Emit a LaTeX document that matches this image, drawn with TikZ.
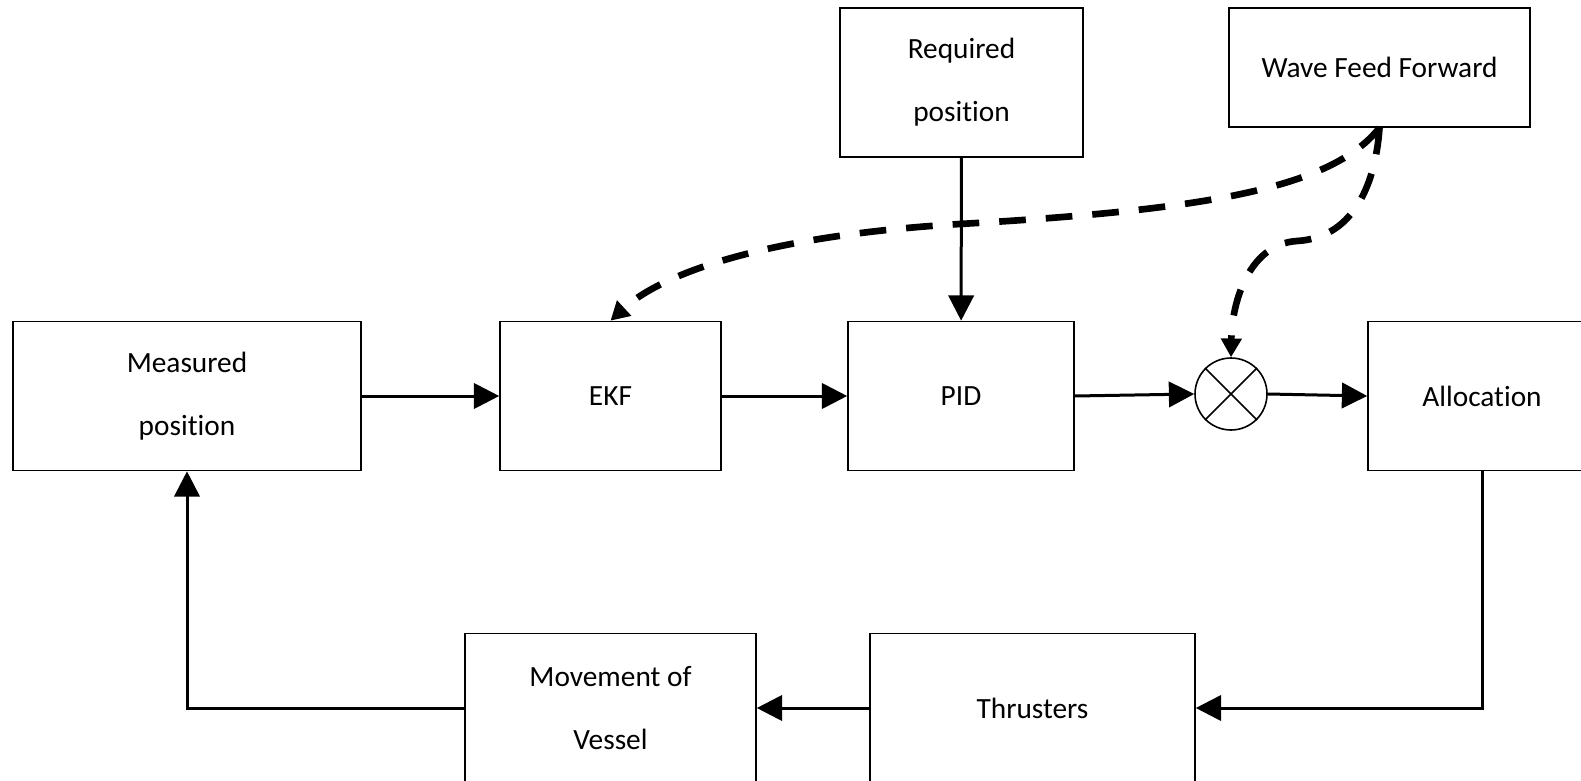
\documentclass[tikz,border=0pt]{standalone}
\usepackage{fontspec}
\setmainfont{Carlito}[Ligatures=NoCommon]
\usetikzlibrary{arrows.meta}

\begin{document}
\begin{tikzpicture}[x=0.75pt,y=-0.75pt,
  >={Triangle[length=19pt,width=19pt]},
  block/.style={draw,line width=1.2pt,inner sep=0pt,align=center,
    minimum height=111.75pt,font=\fontsize{22}{47}\selectfont},
  flow/.style={->,line width=2.25pt},
  wave/.style={-{Triangle[length=14pt,width=15pt]},line width=5pt,
    dash pattern=on 20pt off 15pt}]
  \useasboundingbox (0,0) rectangle (1581,781);
  \node[block,minimum width=261pt] (mp) at (187,396) {Measured\\position};
  \node[block,minimum width=165.75pt] (ekf) at (610.5,396) {EKF};
  \node[block,minimum width=169.5pt] (pid) at (961,396) {PID};
  \node[block,minimum width=171pt] (alloc) at (1482,396) {Allocation};
  \node[block,minimum width=182.25pt] (req) at (961.5,82.5) {Required\\position};
  \node[block,minimum width=225.75pt,minimum height=89.25pt] (wff) at (1379.5,67.5) {Wave Feed Forward};
  \node[block,minimum width=218.25pt] (mov) at (610.5,708) {Movement of\\Vessel};
  \node[block,minimum width=243.75pt] (thr) at (1032.5,708) {Thrusters};
  \node[draw,circle,line width=1.2pt,minimum size=54pt,inner sep=0pt] (sum) at (1231,394) {};
  \draw[line width=1.2pt] (sum.north west) -- (sum.south east)
    (sum.north east) -- (sum.south west);
  \draw [flow] (mp) -- (ekf);
  \draw [flow] (ekf) -- (pid);
  \draw [flow] (pid.east) -- (sum.west);
  \draw [flow] (sum.east) -- (alloc.west);
  \draw [flow] (req) -- (pid);
  \draw [flow] (alloc.south) |- (thr.east);
  \draw [flow] (thr) -- (mov);
  \draw [flow] (mov.west) -| (mp.south);
  \draw [wave] (wff.south) .. controls (1330,190) and (1200,210) .. (960,224)
    .. controls (760,236) and (660,275) .. (ekf.north);
  \draw [wave] (wff.south) .. controls (1375,190) and (1350,238) .. (1297,241)
    .. controls (1250,244) and (1232,300) .. (sum.north);
\end{tikzpicture}
\end{document}
